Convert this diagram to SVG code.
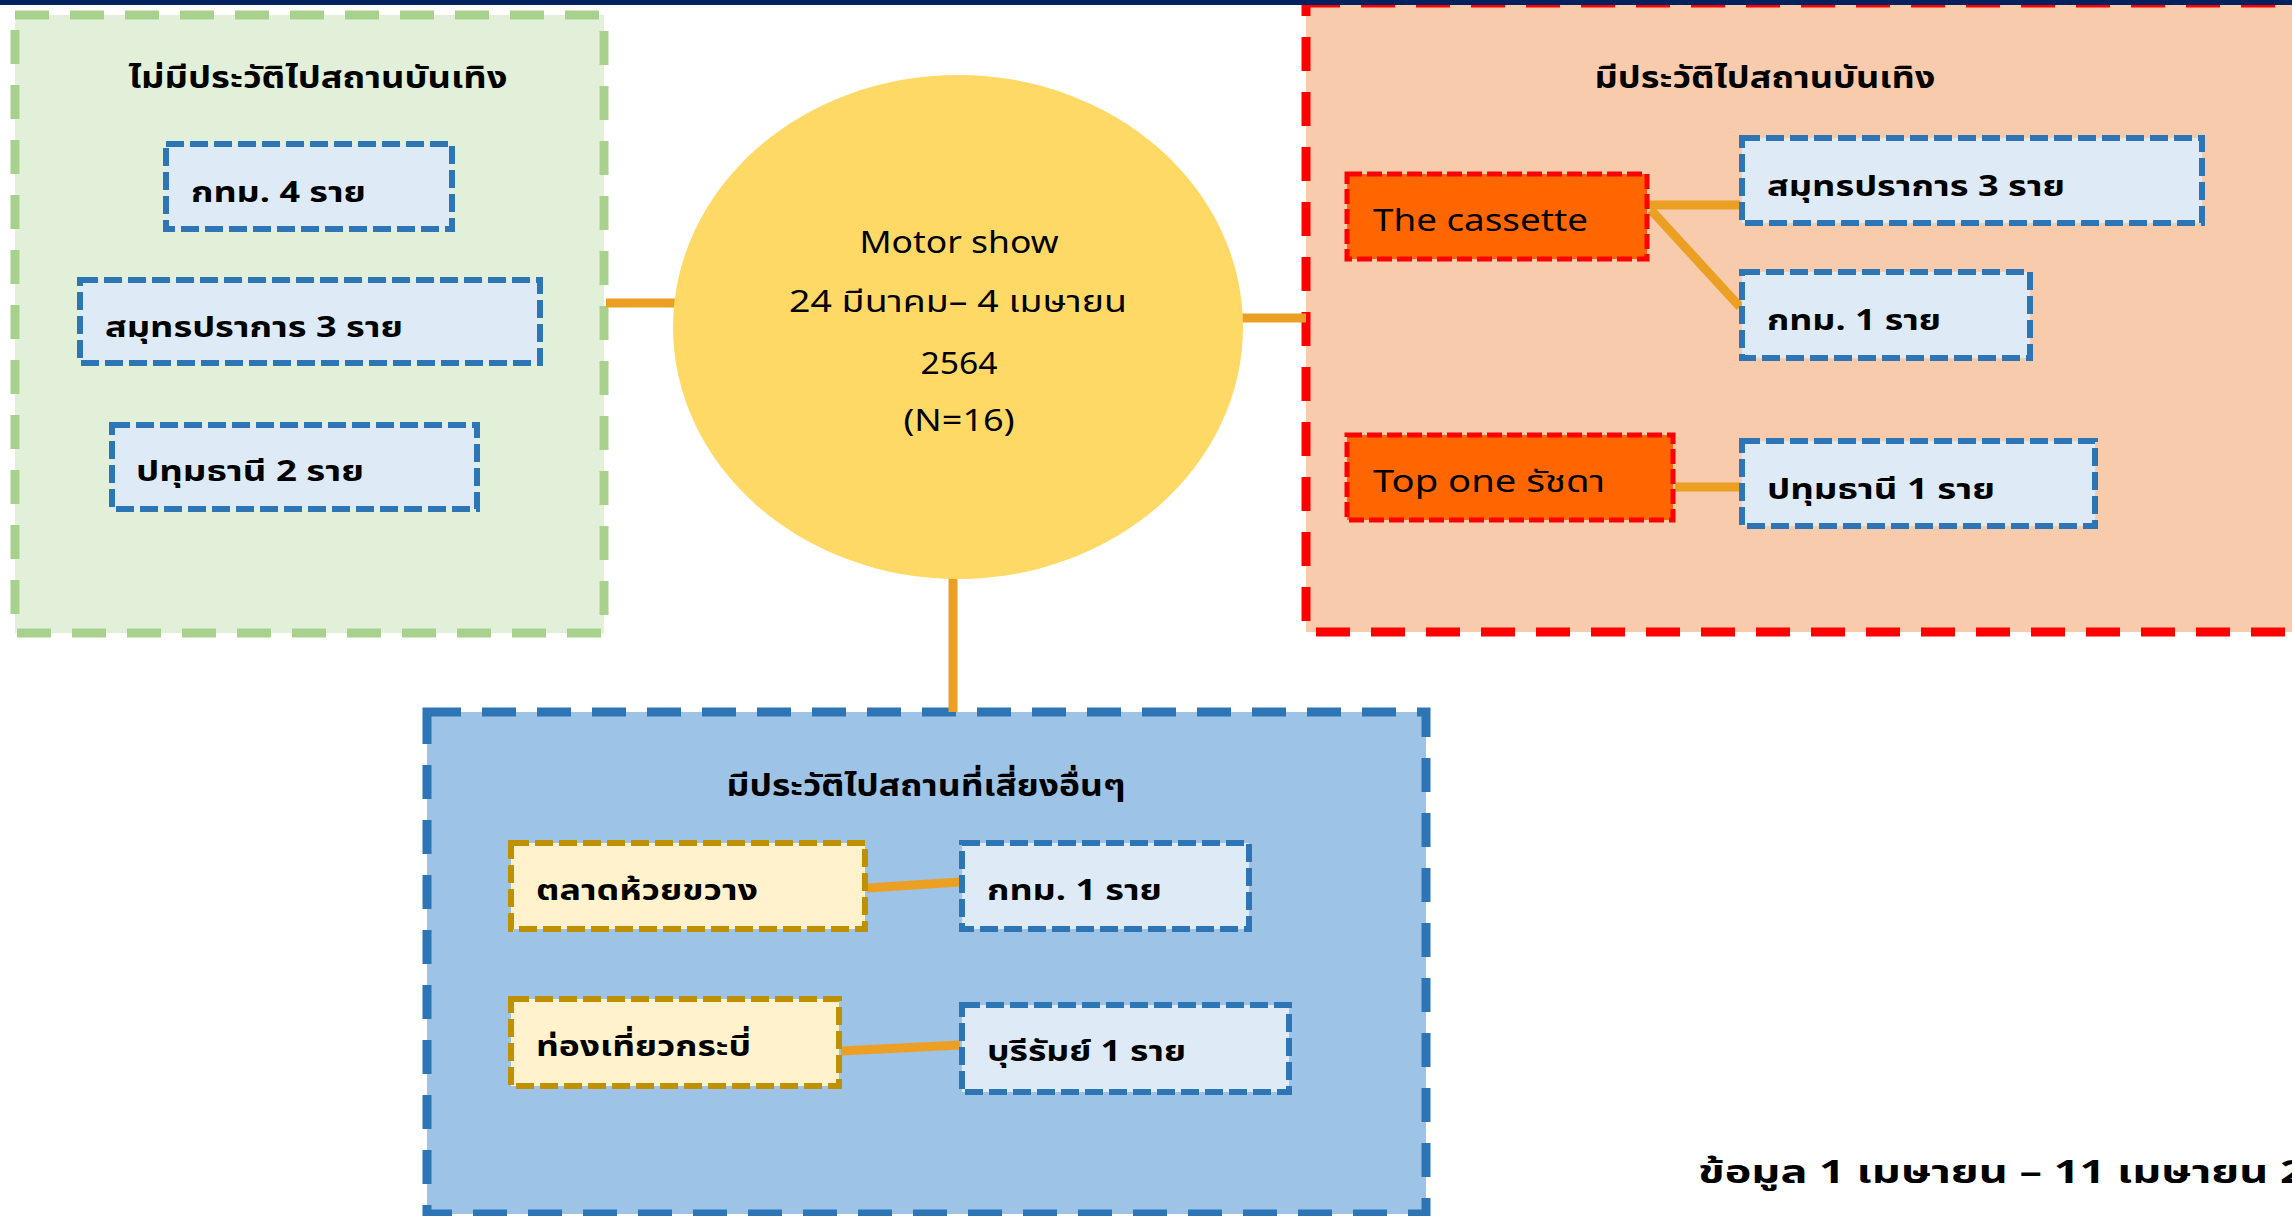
<svg xmlns="http://www.w3.org/2000/svg" width="2292" height="1216" viewBox="0 0 2292 1216">
<style>
.t{font-family:"Noto Sans Thai","Tahoma","DejaVu Sans","Noto Sans",sans-serif;fill:#000}
.lbl{font-size:29px;font-weight:bold}
.ttl{font-size:30px;font-weight:bold;text-anchor:middle}
.ctr{font-size:30px;text-anchor:middle}
.org{font-size:31px}
.big{stroke-width:9;stroke-dasharray:34 21}
.sm{stroke-width:6;stroke-dasharray:18 6}
.leaf{fill:#DEEBF7;stroke:#2E75B6}
.ylw{fill:#FFF2CC;stroke:#BF9000}
.orn{fill:#FF6600;stroke:#FF0000;stroke-width:5;stroke-dasharray:15 5}
.con{stroke:#EBA024;stroke-width:9;fill:none}
</style>
<g id="group-no-history">
<rect class="big" x="15" y="15" width="589" height="618" fill="#E2F0D9" stroke="#A9D18E"/>
<text class="t ttl" x="318" y="88" textLength="379" lengthAdjust="spacingAndGlyphs">ไม่มีประวัติไปสถานบันเทิง</text>
</g>
<g id="group-entertainment">
<rect class="big" x="1306" y="3" width="1000" height="629" fill="#F8CBAD" stroke="#FF0000"/>
<text class="t ttl" x="1765" y="88" textLength="341" lengthAdjust="spacingAndGlyphs">มีประวัติไปสถานบันเทิง</text>
</g>
<g id="group-other">
<rect class="big" x="427" y="712" width="999" height="502" fill="#9DC3E6" stroke="#2E75B6"/>
<text class="t ttl" x="926" y="796" textLength="399" lengthAdjust="spacingAndGlyphs">มีประวัติไปสถานที่เสี่ยงอื่นๆ</text>
</g>
<rect x="0" y="0" width="2292" height="5" fill="#002060"/>
<g id="connectors">
<line class="con" x1="606" y1="303" x2="676" y2="303"/>
<line class="con" x1="1241" y1="318" x2="1306" y2="318"/>
<line class="con" x1="953" y1="577" x2="953" y2="712"/>
<line class="con" x1="1649" y1="205" x2="1740" y2="205"/>
<line class="con" x1="1651" y1="210" x2="1740" y2="307"/>
<line class="con" x1="1675" y1="487" x2="1740" y2="487"/>
<line class="con" x1="867" y1="888" x2="960" y2="882"/>
<line class="con" x1="841" y1="1051" x2="960" y2="1045"/>
</g>
<g id="n-bkk4"><rect class="sm leaf" x="166" y="144" width="286" height="85"/><text class="t lbl" x="191" y="202" textLength="175" lengthAdjust="spacingAndGlyphs">กทม. 4 ราย</text></g>
<g id="n-spk3"><rect class="sm leaf" x="80" y="280" width="460" height="83"/><text class="t lbl" x="105" y="337" textLength="298" lengthAdjust="spacingAndGlyphs">สมุทรปราการ 3 ราย</text></g>
<g id="n-ptt2"><rect class="sm leaf" x="112" y="425" width="365" height="84"/><text class="t lbl" x="136" y="481" textLength="228" lengthAdjust="spacingAndGlyphs">ปทุมธานี 2 ราย</text></g>
<g id="motor-show">
<ellipse cx="958" cy="327" rx="285" ry="252" fill="#FFD966"/>
<text class="t ctr" x="959" y="253" textLength="199" lengthAdjust="spacingAndGlyphs">Motor show</text>
<text class="t ctr" x="958" y="312" textLength="338" lengthAdjust="spacingAndGlyphs">24 มีนาคม– 4 เมษายน</text>
<text class="t ctr" x="959" y="374" textLength="77" lengthAdjust="spacingAndGlyphs">2564</text>
<text class="t ctr" x="959" y="431" textLength="111" lengthAdjust="spacingAndGlyphs">(N=16)</text>
</g>
<g id="n-cassette"><rect class="orn" x="1347" y="174" width="300" height="85"/><text class="t org" x="1373" y="231" textLength="215" lengthAdjust="spacingAndGlyphs">The cassette</text></g>
<g id="n-spk3b"><rect class="sm leaf" x="1742" y="138" width="460" height="85"/><text class="t lbl" x="1767" y="196" textLength="298" lengthAdjust="spacingAndGlyphs">สมุทรปราการ 3 ราย</text></g>
<g id="n-bkk1"><rect class="sm leaf" x="1742" y="272" width="288" height="86"/><text class="t lbl" x="1767" y="330" textLength="174" lengthAdjust="spacingAndGlyphs">กทม. 1 ราย</text></g>
<g id="n-topone"><rect class="orn" x="1347" y="435" width="326" height="85"/><text class="t org" x="1373" y="492" textLength="232" lengthAdjust="spacingAndGlyphs">Top one รัชดา</text></g>
<g id="n-ptt1"><rect class="sm leaf" x="1742" y="441" width="353" height="85"/><text class="t lbl" x="1767" y="499" textLength="228" lengthAdjust="spacingAndGlyphs">ปทุมธานี 1 ราย</text></g>
<g id="n-huaikwang"><rect class="sm ylw" x="511" y="843" width="354" height="86"/><text class="t lbl" x="536" y="900" textLength="222" lengthAdjust="spacingAndGlyphs">ตลาดห้วยขวาง</text></g>
<g id="n-bkk1b"><rect class="sm leaf" x="962" y="843" width="287" height="86"/><text class="t lbl" x="987" y="900" textLength="175" lengthAdjust="spacingAndGlyphs">กทม. 1 ราย</text></g>
<g id="n-krabi"><rect class="sm ylw" x="511" y="999" width="328" height="87"/><text class="t lbl" x="536" y="1056" textLength="215" lengthAdjust="spacingAndGlyphs">ท่องเที่ยวกระบี่</text></g>
<g id="n-buriram"><rect class="sm leaf" x="962" y="1005" width="327" height="87"/><text class="t lbl" x="987" y="1061" textLength="199" lengthAdjust="spacingAndGlyphs">บุรีรัมย์ 1 ราย</text></g>
<text class="t" x="1698" y="1183" font-size="32" font-weight="bold" textLength="685" lengthAdjust="spacingAndGlyphs">ข้อมูล 1 เมษายน – 11 เมษายน 2564</text>
</svg>
